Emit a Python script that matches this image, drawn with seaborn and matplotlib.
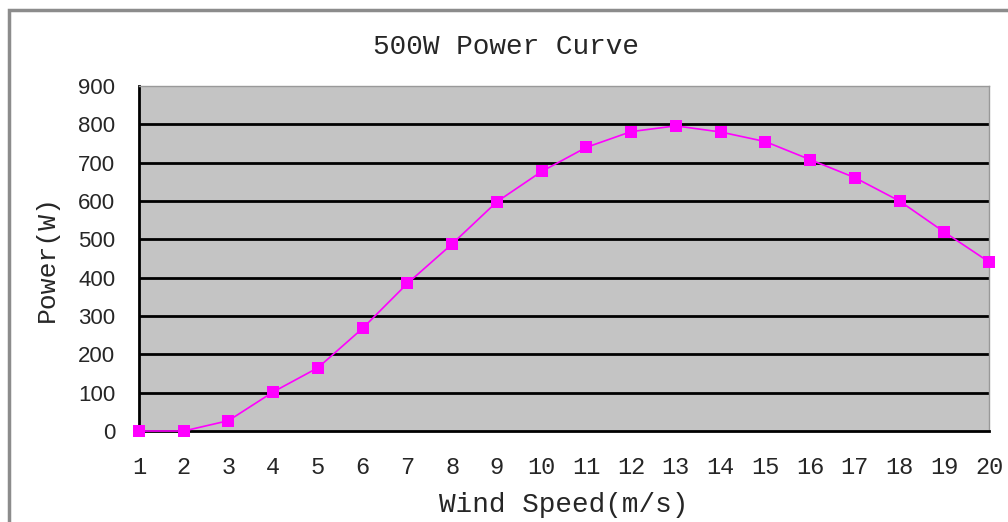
import pandas as pd
import matplotlib.pyplot as plt
import seaborn as sns
from matplotlib.patches import Rectangle

wind_speed = list(range(1, 21))
power = [0, 0, 27, 102, 165, 268, 385, 488, 598, 677,
         740, 781, 796, 780, 755, 708, 661, 600, 519, 441]
y_ticks = [0, 100, 200, 300, 400, 500, 600, 700, 800, 900]

df = pd.DataFrame({'wind': wind_speed, 'power': power})

sns.set_style('white')
plt.rcParams['font.family'] = ['Liberation Mono', 'DejaVu Sans Mono']

fig = plt.figure(figsize=(10.08, 5.22), dpi=100)
ax = fig.add_axes([139 / 1008, 1 - 431 / 522, 850 / 1008, 345 / 522])
ax.set_facecolor('#c4c4c4')

for v in y_ticks[1:-1]:
    ax.axhline(v, color='black', linewidth=2, zorder=1)

sns.lineplot(data=df, x='wind', y='power', ax=ax, color='#ff00ff',
             marker='s', markersize=9, markeredgewidth=0, linewidth=1.2,
             zorder=3, clip_on=False)

ax.set_xlim(1, 20)
ax.set_ylim(0, 900)
ax.set_xticks(wind_speed)
ax.set_yticks(y_ticks)
ax.tick_params(axis='x', direction='in', length=6, width=1.5, pad=18, labelsize=17, color='black')
ax.tick_params(axis='y', direction='in', length=4, width=1.5, pad=17, labelsize=16, color='black')
for lbl in ax.get_yticklabels():
    lbl.set_family('Liberation Sans')
for side in ['left', 'bottom']:
    ax.spines[side].set_color('black')
    ax.spines[side].set_linewidth(2)
for side in ['top', 'right']:
    ax.spines[side].set_color('#999999')
    ax.spines[side].set_linewidth(1)

ax.set_xlabel('Wind Speed(m/s)', fontsize=20, labelpad=9)
ax.set_ylabel('Power(W)', fontsize=19, labelpad=14)
fig.text(0.502, 1 - 47 / 522, '500W Power Curve', ha='center', va='center', fontsize=20)

fig.patches.append(Rectangle((9 / 1008, -0.05), 1.2, 1 - 10 / 522 + 0.05,
                             transform=fig.transFigure, fill=False,
                             edgecolor='#8c8c8c', linewidth=2.5))

fig.savefig('out.png', dpi=100)
